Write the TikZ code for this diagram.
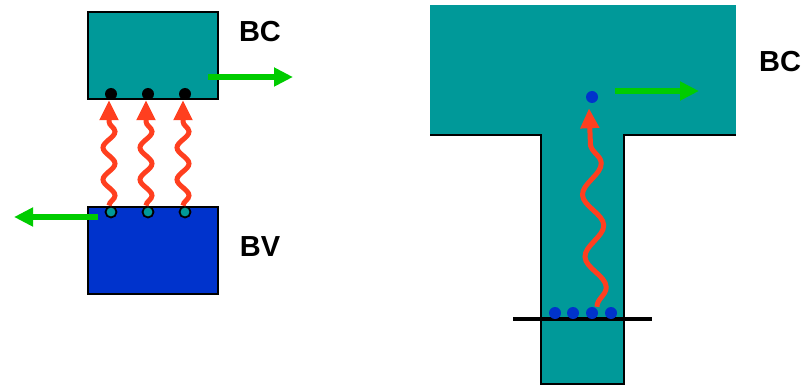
\documentclass[tikz,border=0pt]{standalone}
\usepackage{fontspec}
\setmainfont{Liberation Sans}
\usetikzlibrary{arrows.meta, positioning, decorations.pathmorphing, calc}
\usepackage{xcolor}
\definecolor{slabteal}{HTML}{009999}
\definecolor{deckblue}{HTML}{0033CC}
\definecolor{heatred}{HTML}{FF3F1F}
\definecolor{flowgreen}{HTML}{00CC00}
\tikzset{
  tealbox/.style={rectangle, draw=black, fill=slabteal, line width=2pt,
                  minimum width=130pt, minimum height=87pt, inner sep=0},
  bluebox/.style={rectangle, draw=black, fill=deckblue, line width=2pt,
                  minimum width=130pt, minimum height=87pt, inner sep=0},
  blackdot/.style={circle, fill=black, minimum size=12pt, inner sep=0},
  hollowdot/.style={circle, draw=black, fill=slabteal, line width=1.8pt,
                    minimum size=11pt, inner sep=0},
  bluedot/.style={circle, fill=deckblue, minimum size=12pt, inner sep=0},
  wave/.style={-{Triangle[length=20pt 0 0,width=18pt 0 0]}, line width=5pt, draw=heatred,
               decorate, decoration={snake, amplitude=6pt, segment length=32pt,
               post length=20pt, mirror}},
  bigwave/.style={wave, decoration={snake, amplitude=10pt, segment length=62pt,
                  post length=20pt, mirror}},
  flow/.style={-{Triangle[length=19pt 0 0,width=18pt 0 0]}, line width=6pt, draw=flowgreen},
  tag/.style={font=\fontsize{29}{29}\selectfont\bfseries},
  flange/.style={draw=black, line width=2.5pt},
}

\begin{document}
\begin{tikzpicture}[x=1pt, y=-1pt]
  \useasboundingbox (0,0) rectangle (803,385);

  % Two slabs on the left
  \node[tealbox] (bc) at (153,55.5)  {};
  \node[bluebox] (bv) at (153,250.5) {};
  \node[tag] (bclab) at (260,32)  {BC};
  \node[tag] (bvlab) at (260,247) {BV};

  % Dots on the facing edges
  \foreach \i/\dx in {1/-42,2/-5,3/32} {
    \node[blackdot]  (c\i) at ([xshift=\dx pt, yshift=6pt]bc.south) {};
    \node[hollowdot] (h\i) at ([xshift=\dx pt, yshift=-6pt]bv.north) {};
  }
  \foreach \i in {1,2,3}
    \draw[wave] ([xshift=-2pt]h\i.north) -- ([xshift=-2pt]c\i.south);

  % Green arrows
  \coordinate (bcout) at (208,77);
  \coordinate (bcend) at (293,77);
  \coordinate (bvout) at (98,217);
  \coordinate (bvend) at (14,217);
  \draw[flow] (bcout) -- (bcend);
  \draw[flow] (bvout) -- (bvend);

  % T-beam on the right
  \fill[slabteal] (430,5) rectangle (736,135);
  \fill[slabteal] (541,134) rectangle (624,384);
  \draw[flange] (430,135) -- (541,135) -- (541,384) -- (624,384) -- (624,135) -- (736,135);
  \draw[line width=3.5pt] (513,319) -- (652,319);
  \foreach \i/\x in {1/555,2/573,3/592,4/611}
    \node[bluedot] (b\i) at (\x,313) {};
  \node[bluedot] (bt) at (592,97) {};
  \node[tag] (tlab) at (780,62) {BC};

  \draw[bigwave] ([xshift=5pt]b3.north) -- ([xshift=-3pt, yshift=-5pt]bt.south);

  \coordinate (tout) at (615,91);
  \coordinate (tend) at (699,91);
  \draw[flow] (tout) -- (tend);

\end{tikzpicture}
\end{document}
